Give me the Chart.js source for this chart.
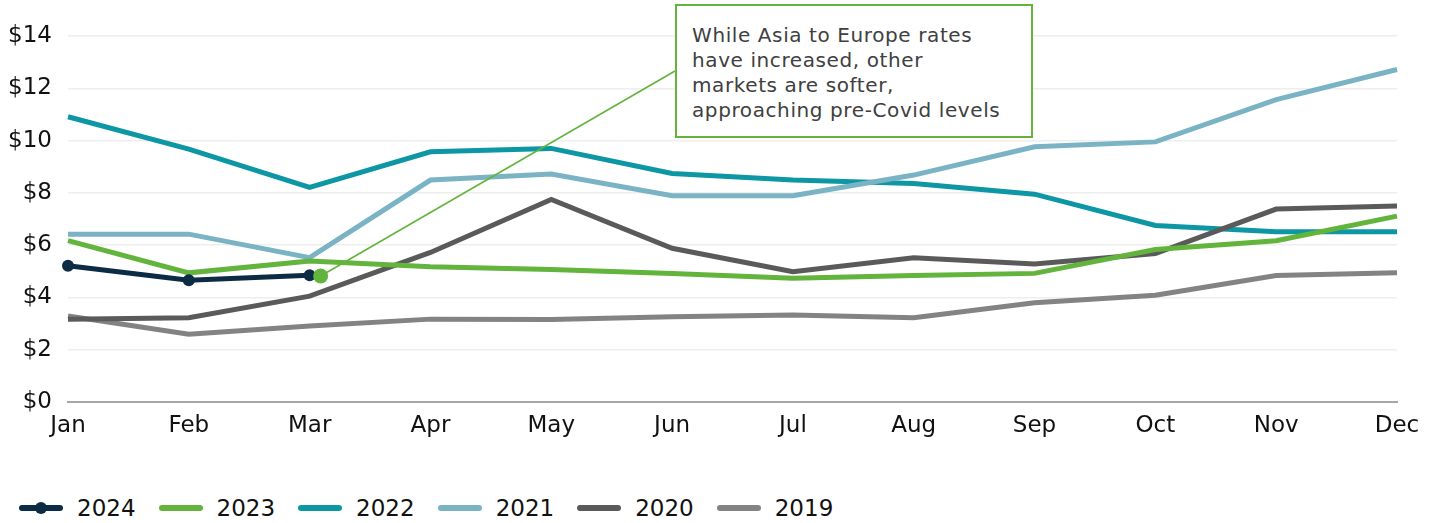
<!DOCTYPE html>
<html>
<head>
<meta charset="utf-8">
<script src="https://cdn.jsdelivr.net/npm/chart.js@4"></script>
<style>
  body { margin: 0; background: #fff; font-family: "DejaVu Sans", Verdana, sans-serif; }
  #wrap { position: relative; width: 1436px; height: 523px; overflow: hidden; }
  #grafico { position: absolute; left: 0; top: 0; }
  #nota {
    position: absolute; left: 675px; top: 4px; width: 358px; height: 134px;
    border: 2px solid #62b43c; background: #fff; box-sizing: border-box;
    padding: 17px 0 0 15px; font-size: 20px; line-height: 25px; letter-spacing: 0.6px; color: #404040;
  }
  #leyenda { position: absolute; left: 19px; top: 495px; display: flex; align-items: center; }
  .item { display: flex; align-items: center; margin-right: 23px; }
  .muestra { position: relative; width: 44px; height: 6px; border-radius: 3px; margin-right: 14px; }
  .muestra .punto { position: absolute; left: 16px; top: -3px; width: 12px; height: 12px; border-radius: 50%; }
  .item span { font-size: 23px; color: #111; }
</style>
</head>
<body>
<div id="wrap">
  <canvas id="grafico" width="1436" height="480"></canvas>
  <div id="nota">While Asia to Europe rates<br>have increased, other<br>markets are softer,<br>approaching pre-Covid levels</div>
  <div id="leyenda"></div>
</div>
<script>
const meses = ["Jan", "Feb", "Mar", "Apr", "May", "Jun", "Jul", "Aug", "Sep", "Oct", "Nov", "Dec"];
const ticksY = [0, 2, 4, 6, 8, 10, 12, 14];

const y2024 = [5.21, 4.66, 4.85];
const y2023 = [6.17, 4.94, 5.39, 5.17, 5.07, 4.92, 4.73, 4.84, 4.92, 5.83, 6.17, 7.11];
const y2022 = [10.91, 9.67, 8.21, 9.57, 9.70, 8.74, 8.49, 8.36, 7.95, 6.75, 6.51, 6.51];
const y2021 = [6.42, 6.42, 5.52, 8.49, 8.72, 7.89, 7.89, 8.68, 9.76, 9.95, 11.57, 12.72];
const y2020 = [3.17, 3.22, 4.05, 5.72, 7.75, 5.88, 4.98, 5.52, 5.28, 5.68, 7.38, 7.50];
const y2019 = [3.29, 2.59, 2.91, 3.17, 3.16, 3.26, 3.33, 3.22, 3.80, 4.08, 4.84, 4.94];

// punto verde de la nota (mes y valor)
const notaMes = "Mar";
const notaValor = 4.82;

const series = [
  { label: "2024", data: y2024, color: "#0c2c45", puntos: true, order: 0 },
  { label: "2023", data: y2023, color: "#62b43c", order: 1 },
  { label: "2022", data: y2022, color: "#0d97a4", order: 4 },
  { label: "2021", data: y2021, color: "#7ab4c4", order: 3 },
  { label: "2020", data: y2020, color: "#5a5a5a", order: 2 },
  { label: "2019", data: y2019, color: "#838383", order: 5 },
];

const fuente = { family: "'DejaVu Sans', Verdana, sans-serif", size: 23 };

// linea y punto que unen la nota con la serie
const notaPlugin = {
  id: "nota",
  afterDatasetsDraw(chart) {
    const { ctx, scales } = chart;
    const caja = document.getElementById("nota");
    const px = scales.x.getPixelForValue(meses.indexOf(notaMes)) + 11;
    const py = scales.y.getPixelForValue(notaValor);
    const fx = caja.offsetLeft;
    const fy = caja.offsetTop + caja.offsetHeight * 0.5;
    ctx.save();
    ctx.strokeStyle = "#62b43c";
    ctx.lineWidth = 1.6;
    ctx.beginPath();
    ctx.moveTo(px, py);
    ctx.lineTo(fx, fy);
    ctx.stroke();
    ctx.fillStyle = "#62b43c";
    ctx.beginPath();
    ctx.arc(px, py, 7.5, 0, Math.PI * 2);
    ctx.fill();
    ctx.restore();
  }
};

new Chart(document.getElementById("grafico"), {
  type: "line",
  data: {
    labels: meses,
    datasets: series.map(s => ({
      label: s.label,
      data: s.data,
      borderColor: s.color,
      backgroundColor: s.color,
      borderWidth: 5,
      pointRadius: s.puntos ? 6 : 0,
      pointHoverRadius: s.puntos ? 6 : 0,
      pointBorderWidth: 0,
      tension: 0,
      order: s.order,
    }))
  },
  options: {
    responsive: false,
    animation: false,
    layout: { padding: { top: 36, right: 39, left: 0, bottom: 0 } },
    plugins: { legend: { display: false }, tooltip: { enabled: false } },
    scales: {
      x: {
        grid: { display: false, drawTicks: false },
        border: { color: "#a6a6a6", width: 2 },
        ticks: { font: fuente, color: "#111", padding: 10, maxRotation: 0, autoSkip: false },
        afterFit: s => { s.height = 78; }
      },
      y: {
        min: 0,
        max: 14,
        afterBuildTicks: s => { s.ticks = ticksY.map(v => ({ value: v })); },
        grid: {
          drawTicks: false,
          color: c => c.tick.value === 0 ? "#a6a6a6" : "#eeeeee",
          lineWidth: c => c.tick.value === 0 ? 2 : 1.5
        },
        border: { display: false },
        ticks: { font: fuente, color: "#111", padding: 16, callback: v => "$" + v },
        afterFit: s => { s.width = 68; }
      }
    }
  },
  plugins: [notaPlugin]
});

// leyenda
const leyenda = document.getElementById("leyenda");
series.forEach(s => {
  const item = document.createElement("div");
  item.className = "item";
  const muestra = document.createElement("div");
  muestra.className = "muestra";
  muestra.style.background = s.color;
  if (s.puntos) {
    const p = document.createElement("div");
    p.className = "punto";
    p.style.background = s.color;
    muestra.appendChild(p);
  }
  const txt = document.createElement("span");
  txt.textContent = s.label;
  item.appendChild(muestra);
  item.appendChild(txt);
  leyenda.appendChild(item);
});
</script>
</body>
</html>
